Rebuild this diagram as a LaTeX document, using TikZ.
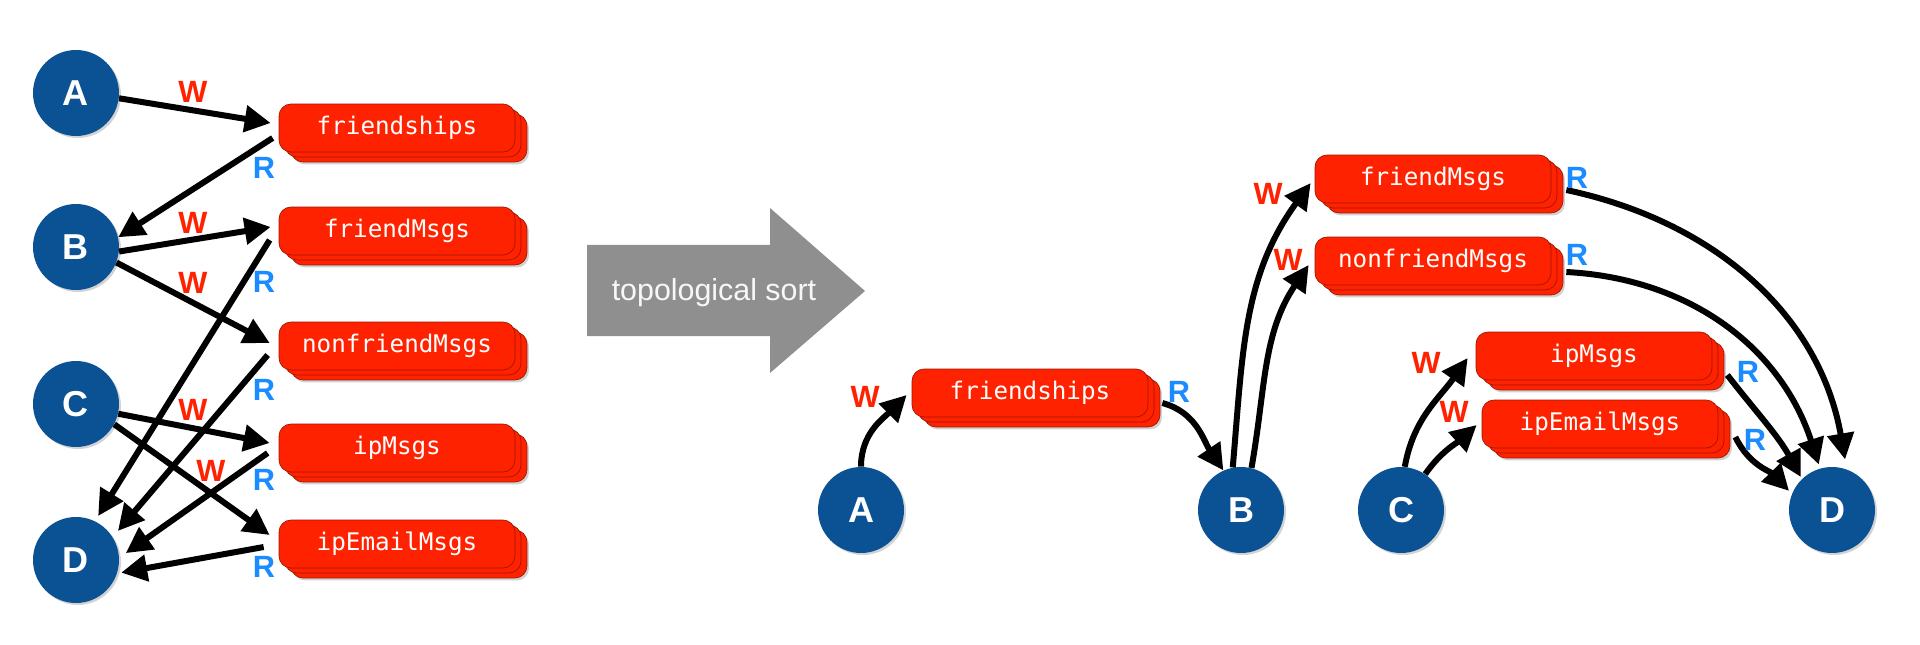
\documentclass[tikz,border=0pt]{standalone}
\usepackage{fontspec}
\setmainfont{Liberation Sans}
\newfontfamily\codefont{DejaVu Sans Mono}
\usetikzlibrary{arrows.meta,shadows}

\definecolor{procblue}{RGB}{10,82,148}
\definecolor{storered}{RGB}{255,34,0}
\definecolor{storeedge}{RGB}{160,22,0}
\definecolor{readblue}{RGB}{26,140,255}
\definecolor{sortgray}{RGB}{143,143,143}

\tikzset{
  proc/.style={circle, fill=procblue, minimum size=1.72cm, inner sep=0pt,
    text=white, font=\fontsize{20.5}{20}\selectfont\bfseries,
    drop shadow={shadow xshift=.04cm, shadow yshift=-.04cm, opacity=.35}},
  store/.style={rectangle, rounded corners=.24cm, fill=storered, draw=storeedge,
    line width=.4pt, minimum width=4.72cm, minimum height=.96cm, inner sep=0pt,
    text=white, font=\codefont\fontsize{13.8}{16}\selectfont,
    general shadow={shadow xshift=.28cm, shadow yshift=-.25cm, fill=black, draw=none, opacity=.18},
    copy shadow={shadow xshift=.24cm, shadow yshift=-.2cm, fill=storered, draw=storeedge},
    copy shadow={shadow xshift=.12cm, shadow yshift=-.1cm, fill=storered, draw=storeedge}},
  flow/.style={line width=.12cm, -{Triangle[length=.52cm,width=.52cm]}},
  wlab/.style={text=storered, font=\fontsize{17.5}{18}\selectfont\bfseries},
  rlab/.style={text=readblue, font=\fontsize{17.5}{18}\selectfont\bfseries},
}

\begin{document}
\begin{tikzpicture}[x=0.02cm,y=0.02cm]
  \useasboundingbox (0,0) rectangle (1920,-645);

  % before sorting
  \node[proc] (la) at (76,-93) {A};
  \node[proc] (lb) at (76,-247) {B};
  \node[proc] (lc) at (76,-404) {C};
  \node[proc] (ld) at (76,-560) {D};
  \node[store] (lfs) at (397,-128) {friendships};
  \node[store] (lfm) at (397,-231) {friendMsgs};
  \node[store] (lnf) at (397,-346) {nonfriendMsgs};
  \node[store] (lip) at (397,-448) {ipMsgs};
  \node[store] (lie) at (397,-544) {ipEmailMsgs};

  \draw[flow] (la.-7) -- ([shift={(-8,5)}]lfs.west);
  \draw[flow] ([shift={(-6,-10)}]lfs.west) -- (lb.13);
  \draw[flow] (lb.-6) -- ([shift={(-8,4)}]lfm.west);
  \draw[flow] (lb.-21) -- ([shift={(-9,3)}]lnf.west);
  \draw[flow, shorten >=.12cm] ([shift={(-9,-9)}]lfm.west) -- (ld.64);
  \draw[flow, shorten >=.16cm] ([shift={(-11,-9)}]lnf.west) -- (ld.32);
  \draw[flow] (lc.-13) -- ([shift={(-9,5)}]lip.west);
  \draw[flow] (lc.-28) -- ([shift={(-9,9)}]lie.west);
  \draw[flow, shorten >=.16cm] ([shift={(-11,-5)}]lip.west) -- (ld.3);
  \draw[flow, shorten >=.08cm] ([shift={(-15,-3)}]lie.west) -- (ld.-18);

  \node[wlab] (w1) at (193,-92) {W};
  \node[rlab] (r1) at (264,-168) {R};
  \node[wlab] (w2) at (193,-223) {W};
  \node[wlab] (w3) at (193,-283) {W};
  \node[rlab] (r2) at (264,-282) {R};
  \node[rlab] (r3) at (264,-390) {R};
  \node[wlab] (w4) at (193,-410) {W};
  \node[wlab] (w5) at (211,-471) {W};
  \node[rlab] (r4) at (264,-480) {R};
  \node[rlab] (r5) at (264,-567) {R};

  % big arrow
  \fill[sortgray] (587,-245) -- (770,-245) -- (770,-208) -- (865,-291)
    -- (770,-373) -- (770,-336) -- (587,-336) -- cycle;
  \node[text=white!93!sortgray, font=\fontsize{17.3}{18}\selectfont] (sort)
    at (714,-293) {topological sort};

  % after sorting
  \node[proc] (ra) at (861,-510) {A};
  \node[proc] (rb) at (1241,-510) {B};
  \node[proc] (rc) at (1401,-510) {C};
  \node[proc] (rd) at (1832,-510) {D};
  \node[store] (rfs) at (1030,-393) {friendships};
  \node[store] (rfm) at (1433,-179) {friendMsgs};
  \node[store] (rnf) at (1433,-261) {nonfriendMsgs};
  \node[store] (rip) at (1594,-356) {ipMsgs};
  \node[store] (rie) at (1600,-424) {ipEmailMsgs};

  \draw[flow] (ra.north) to[out=90,in=225] ([shift={(-5,-2)}]rfs.west);
  \draw[flow] ([shift={(14,-10)}]rfs.east) to[out=-15,in=124] (rb.114);
  \draw[flow] (rb.101) to[out=85,in=234] ([shift={(-4,-4)}]rfm.west);
  \draw[flow] (rb.76) to[out=80,in=236] ([shift={(-6,-4)}]rnf.west);
  \draw[flow, shorten >=.2cm] ([shift={(15,-11)}]rfm.east) to[out=-12,in=100] (rd.70);
  \draw[flow, shorten >=.08cm] ([shift={(15,-11)}]rnf.east) to[out=-3,in=108] (rd.106);
  \draw[flow, shorten >=.04cm] ([shift={(15,-19)}]rip.east) to[out=-52,in=119] (rd.134);
  \draw[flow, shorten >=.08cm] ([shift={(17,-13)}]rie.east) to[out=-64,in=134] (rd.158);
  \draw[flow] (rc.85) to[out=80,in=235] ([shift={(-8,-2)}]rip.west);
  \draw[flow] (rc.56) to[out=55,in=222] ([shift={(-5,-1)}]rie.west);

  \node[wlab] (w6) at (865,-397) {W};
  \node[rlab] (r6) at (1179,-392) {R};
  \node[wlab] (w7) at (1268,-194) {W};
  \node[wlab] (w8) at (1288,-260) {W};
  \node[rlab] (r7) at (1577,-178) {R};
  \node[rlab] (r8) at (1577,-255) {R};
  \node[wlab] (w9) at (1426,-363) {W};
  \node[wlab] (w10) at (1454,-412) {W};
  \node[rlab] (r9) at (1748,-372) {R};
  \node[rlab] (r10) at (1755,-440) {R};
\end{tikzpicture}
\end{document}
